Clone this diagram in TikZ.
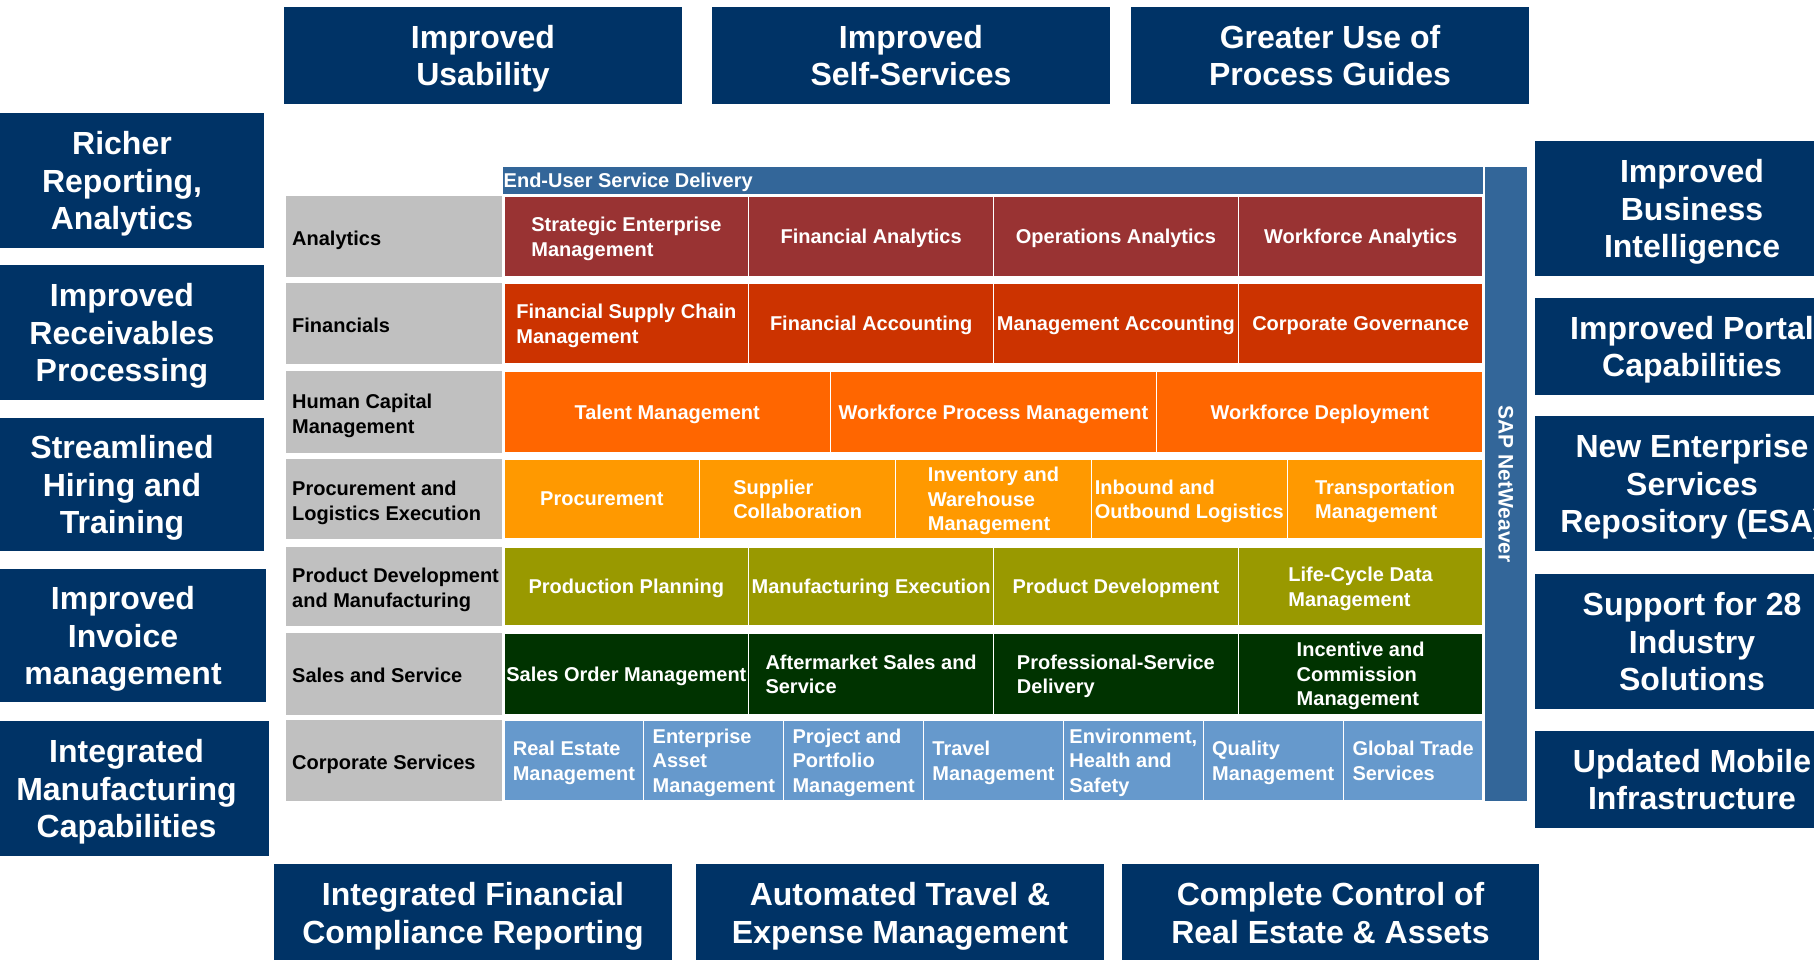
\documentclass[tikz,border=0pt]{standalone}
\usepackage{fontspec}
\setmainfont{Liberation Sans}
\definecolor{navy}{HTML}{003366}
\definecolor{barblue}{HTML}{336699}
\definecolor{anac}{HTML}{993333}
\definecolor{finc}{HTML}{CC3300}
\definecolor{hcmc}{HTML}{FF6600}
\definecolor{proc}{HTML}{FF9900}
\definecolor{pdc}{HTML}{999900}
\definecolor{salc}{HTML}{003300}
\definecolor{corc}{HTML}{6699CC}
\definecolor{grayc}{HTML}{C0C0C0}
% #1 name, #2 cx, #3 cy, #4 width, #5 height, #6 text
\newcommand\mybox[6]{%
  \node[bigrect, minimum width=#4, minimum height=#5] (#1) at (#2,#3) {};
  \node[bigtext] (#1t) at (#1.center) {#6};}
% #1 name, #2 fill, #3 cx, #4 cy, #5 width, #6 height, #7 text
\newcommand\mycell[7]{%
  \node[cellrect, fill=#2, minimum width=#5, minimum height=#6] (#1) at (#3,#4) {};
  \node[celltext] (#1t) at (#1.center) {#7};}
% #1 name, #2 cy, #3 height, #4 text
\newcommand\myrowlabel[4]{%
  \node[graybox, minimum height=#3] (#1) at (394,#2) {};
  \node[lbltext] (#1t) at (292,#2) {#4};}
\begin{document}
\begin{tikzpicture}[x=1pt,y=-1pt,
  bigrect/.style={fill=navy, inner sep=0pt},
  bigtext/.style={text=white, font=\fontsize{32}{37.5}\selectfont\bfseries, align=center, inner sep=0pt, text depth=0pt},
  cellrect/.style={draw=white, line width=1.2pt, inner sep=0pt},
  celltext/.style={text=white, font=\fontsize{20}{24.5}\selectfont\bfseries, align=left, inner sep=0pt, text depth=0pt},
  graybox/.style={fill=grayc, inner sep=0pt, minimum width=216},
  lbltext/.style={text=black, font=\fontsize{20}{25}\selectfont\bfseries, align=left, inner sep=0pt, anchor=west, text depth=0pt, yshift=-1.5pt},
  barbox/.style={fill=barblue, inner sep=0pt},
  bartext/.style={text=white, font=\fontsize{20}{24}\selectfont\bfseries, inner sep=0pt, text depth=0pt}
]
\useasboundingbox (0,0) rectangle (1814,959);
\clip (0,0) rectangle (1814,959);
\fill[white] (0,0) rectangle (1814,959);

% top boxes
\mybox{t1}{483}{55.5}{398}{97}{Improved\\Usability}
\mybox{t2}{911}{55.5}{398}{97}{Improved\\Self-Services}
\mybox{t3}{1330}{55.5}{398}{97}{Greater Use of\\Process Guides}

% left boxes
\mybox{l1}{122}{180.5}{284}{135}{Richer\\Reporting,\\Analytics}
\mybox{l2}{122}{332.5}{284}{135}{Improved\\Receivables\\Processing}
\mybox{l3}{122}{484.5}{284}{133}{Streamlined\\Hiring and\\Training}
\mybox{l4}{123}{635.5}{286}{133}{Improved\\Invoice\\management}
\mybox{l5}{126.5}{788.5}{285}{135}{Integrated\\Manufacturing\\Capabilities}

% right boxes
\mybox{r1}{1692}{208.5}{314}{135}{Improved\\Business\\Intelligence}
\mybox{r2}{1692}{346.5}{314}{97}{Improved Portal\\Capabilities}
\mybox{r3}{1692}{483.5}{314}{135}{New Enterprise\\Services\\Repository (ESA)}
\mybox{r4}{1692}{641.5}{314}{135}{Support for 28\\Industry\\Solutions}
\mybox{r5}{1692}{779.5}{314}{97}{Updated Mobile\\Infrastructure}

% bottom boxes
\mybox{b1}{473}{913}{398}{98}{Integrated Financial\\Compliance Reporting}
\mybox{b2}{900}{913}{408}{98}{Automated Travel \&\\Expense Management}
\mybox{b3}{1330.5}{913}{417}{98}{Complete Control of\\Real Estate \& Assets}

% bars
\node[barbox, minimum width=980, minimum height=27] (eusd) at (993,180.5) {};
\node[bartext, anchor=west] (eusdt) at (503.5,180.5) {End-User Service Delivery};
\node[barbox, minimum width=42, minimum height=634] (nw) at (1506,484) {};
\node[bartext, rotate=-90, font=\fontsize{21}{25}\selectfont\bfseries] (nwt) at (nw.center) {SAP NetWeaver};

% row labels
\myrowlabel{g1}{236.5}{81}{Analytics}
\myrowlabel{g2}{323.5}{81}{Financials}
\myrowlabel{g3}{412}{82}{Human Capital\\Management}
\myrowlabel{g4}{499}{80}{Procurement and\\Logistics Execution}
\myrowlabel{g5}{586.5}{79}{Product Development\\and Manufacturing}
\myrowlabel{g6}{674}{82}{Sales and Service}
\myrowlabel{g7}{760.5}{81}{Corporate Services}

% row 1 analytics
\mycell{a1}{anac}{626.375}{236.5}{244.75}{81}{Strategic Enterprise\\Management}
\mycell{a2}{anac}{871.125}{236.5}{244.75}{81}{Financial Analytics}
\mycell{a3}{anac}{1115.875}{236.5}{244.75}{81}{Operations Analytics}
\mycell{a4}{anac}{1360.625}{236.5}{244.75}{81}{Workforce Analytics}

% row 2 financials
\mycell{f1}{finc}{626.375}{323.5}{244.75}{81}{Financial Supply Chain\\Management}
\mycell{f2}{finc}{871.125}{323.5}{244.75}{81}{Financial Accounting}
\mycell{f3}{finc}{1115.875}{323.5}{244.75}{81}{Management Accounting}
\mycell{f4}{finc}{1360.625}{323.5}{244.75}{81}{Corporate Governance}

% row 3 HCM
\mycell{h1}{hcmc}{667.167}{412}{326.33}{82}{Talent Management}
\mycell{h2}{hcmc}{993.5}{412}{326.33}{82}{Workforce Process Management}
\mycell{h3}{hcmc}{1319.833}{412}{326.33}{82}{Workforce Deployment}

% row 4 procurement
\mycell{p1}{proc}{601.9}{499}{195.8}{80}{Procurement}
\mycell{p2}{proc}{797.7}{499}{195.8}{80}{Supplier\\Collaboration}
\mycell{p3}{proc}{993.5}{499}{195.8}{80}{Inventory and\\Warehouse\\Management}
\mycell{p4}{proc}{1189.3}{499}{195.8}{80}{Inbound and\\Outbound Logistics}
\mycell{p5}{proc}{1385.1}{499}{195.8}{80}{Transportation\\Management}

% row 5 product development
\mycell{d1}{pdc}{626.375}{586.5}{244.75}{79}{Production Planning}
\mycell{d2}{pdc}{871.125}{586.5}{244.75}{79}{Manufacturing Execution}
\mycell{d3}{pdc}{1115.875}{586.5}{244.75}{79}{Product Development}
\mycell{d4}{pdc}{1360.625}{586.5}{244.75}{79}{Life-Cycle Data\\Management}

% row 6 sales
\mycell{s1}{salc}{626.375}{674}{244.75}{82}{Sales Order Management}
\mycell{s2}{salc}{871.125}{674}{244.75}{82}{Aftermarket Sales and\\Service}
\mycell{s3}{salc}{1115.875}{674}{244.75}{82}{Professional-Service\\Delivery}
\mycell{s4}{salc}{1360.625}{674}{244.75}{82}{Incentive and\\Commission\\Management}

% row 7 corporate
\mycell{c1}{corc}{573.93}{760.5}{139.86}{81}{Real Estate\\Management}
\mycell{c2}{corc}{713.79}{760.5}{139.86}{81}{Enterprise\\Asset\\Management}
\mycell{c3}{corc}{853.64}{760.5}{139.86}{81}{Project and\\Portfolio\\Management}
\mycell{c4}{corc}{993.5}{760.5}{139.86}{81}{Travel\\Management}
\mycell{c5}{corc}{1133.36}{760.5}{139.86}{81}{Environment,\\Health and\\Safety}
\mycell{c6}{corc}{1273.21}{760.5}{139.86}{81}{Quality\\Management}
\mycell{c7}{corc}{1413.07}{760.5}{139.86}{81}{Global Trade\\Services}
\end{tikzpicture}
\end{document}
